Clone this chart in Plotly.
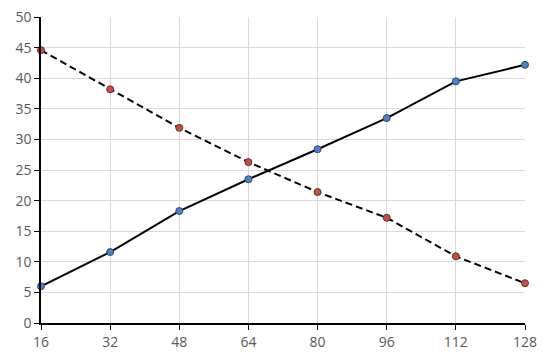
import plotly.graph_objects as go

x_vals = [16, 32, 48, 64, 80, 96, 112, 128]
rising = [6.0, 11.6, 18.3, 23.5, 28.4, 33.5, 39.5, 42.2]
falling = [44.6, 38.2, 31.9, 26.3, 21.4, 17.2, 10.9, 6.5]

fig = go.Figure()

fig.add_trace(go.Scatter(
    x=x_vals, y=falling, mode='lines+markers',
    line={'color': 'black', 'width': 2, 'dash': '7px,4px'},
    marker={'color': '#c0504d', 'size': 7, 'line': {'color': '#6b2b29', 'width': 1}},
    name='falling', cliponaxis=False))

fig.add_trace(go.Scatter(
    x=x_vals, y=rising, mode='lines+markers',
    line={'color': 'black', 'width': 2},
    marker={'color': '#4f81bd', 'size': 7, 'line': {'color': '#2c4a6e', 'width': 1}},
    name='rising', cliponaxis=False))

axis_font = {'family': 'Open Sans, sans-serif', 'size': 14, 'color': '#595959'}

# page body has an 8px margin, so the figure is a bit smaller than the window
fig.update_layout(
    width=542, height=351,
    margin={'l': 33, 'r': 25, 't': 9, 'b': 36},
    paper_bgcolor='white', plot_bgcolor='white',
    showlegend=False,
    xaxis={'range': [16, 128], 'tickvals': x_vals, 'showgrid': True, 'automargin': False,
           'gridcolor': '#d9d9d9', 'gridwidth': 1, 'zeroline': False,
           'showline': True, 'linecolor': 'black', 'linewidth': 1.5,
           'ticks': 'outside', 'ticklen': 5, 'tickcolor': 'black',
           'ticklabeloverflow': 'allow', 'tickfont': axis_font},
    yaxis={'range': [0, 50.02], 'tickvals': list(range(0, 51, 5)), 'showgrid': True,
           'automargin': False,
           'gridcolor': '#d9d9d9', 'gridwidth': 1, 'zeroline': False,
           'showline': True, 'linecolor': 'black', 'linewidth': 1.5,
           'ticks': 'outside', 'ticklen': 5, 'tickcolor': 'black',
           'ticklabeloverflow': 'allow', 'tickfont': axis_font},
)

fig.write_html("out.html")
